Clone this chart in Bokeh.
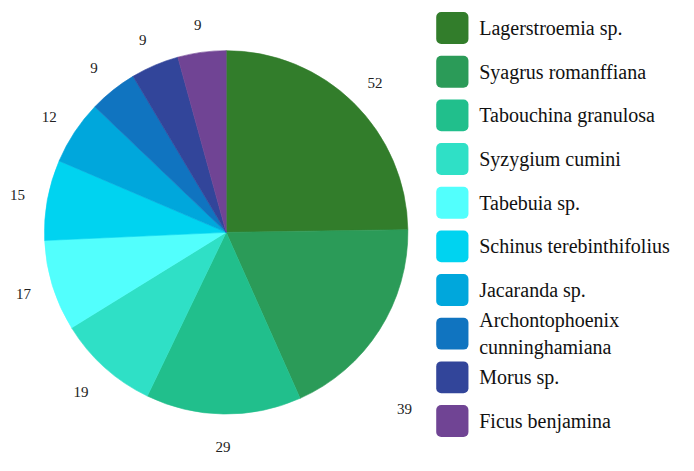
import math
from bokeh.plotting import figure
from bokeh.models import ColumnDataSource, Range1d
from bokeh.core.properties import value
from bokeh.embed import file_html
from bokeh.resources import INLINE

species = ["Lagerstroemia sp.", "Syagrus romanffiana", "Tabouchina granulosa",
           "Syzygium cumini", "Tabebuia sp.", "Schinus terebinthifolius",
           "Jacaranda sp.", "Archontophoenix\ncunninghamiana", "Morus sp.",
           "Ficus benjamina"]
counts = [52, 39, 29, 19, 17, 15, 12, 9, 9, 9]
colors = ["#327d2b", "#2b9b58", "#21bf8c", "#2fe0c6", "#52fffd",
          "#00d3f0", "#00a7dc", "#1074c0", "#32459a", "#704494"]

W, H = 678, 455
# layout units: a 694 x 471 canvas, y measured upward (u_y = 471 - image_y)
p = figure(width=W, height=H, output_backend="svg", toolbar_location=None,
           x_range=Range1d(0, 694), y_range=Range1d(0, 471), min_border=0)
p.axis.visible = False
p.grid.visible = False
p.outline_line_color = None

cx, cy, R = 231, 471 - 240, 186
total = sum(counts)
starts, ends, mids = [], [], []
cum = 0
for c in counts:
    a0 = math.pi / 2 - 2 * math.pi * cum / total
    cum += c
    a1 = math.pi / 2 - 2 * math.pi * cum / total
    starts.append(a0); ends.append(a1); mids.append((a0 + a1) / 2)

src = ColumnDataSource(dict(start=starts, end=ends, color=colors))
p.wedge(x=cx, y=cy, radius=R, start_angle="start", end_angle="end",
        direction="clock", fill_color="color", line_color="color",
        line_width=0.6, source=src)

# value labels
label_r = 217
label_override = {1: (math.radians(-45), 258), 2: (None, 222), 3: (None, 222)}
lx, ly = [], []
for i, m in enumerate(mids):
    ang, r = label_override.get(i, (m, label_r))
    if ang is None:
        ang = m
    lx.append(cx + r * math.cos(ang)); ly.append(cy + r * math.sin(ang))
p.text(x=lx, y=ly, text=[str(c) for c in counts], text_font=value("Liberation Serif"),
       text_font_size="15px", text_color="#222222", text_align="center",
       text_baseline="middle")

# legend
row0, step = 28.5, 45.2
sq = 33
sx = 446
ys = [471 - (row0 + i * step) for i in range(len(species))]
p.quad(left=sx, right=sx + sq, top=[y + sq / 2 for y in ys],
       bottom=[y - sq / 2 for y in ys], fill_color=colors, line_color=None,
       border_radius=5)
p.text(x=490, y=ys, text=species, text_font=value("Liberation Serif"),
       text_font_size="20px", text_color="#111111", text_align="left",
       text_baseline="middle", text_line_height=1.2)

open("out.html", "w").write(file_html(p, INLINE))
